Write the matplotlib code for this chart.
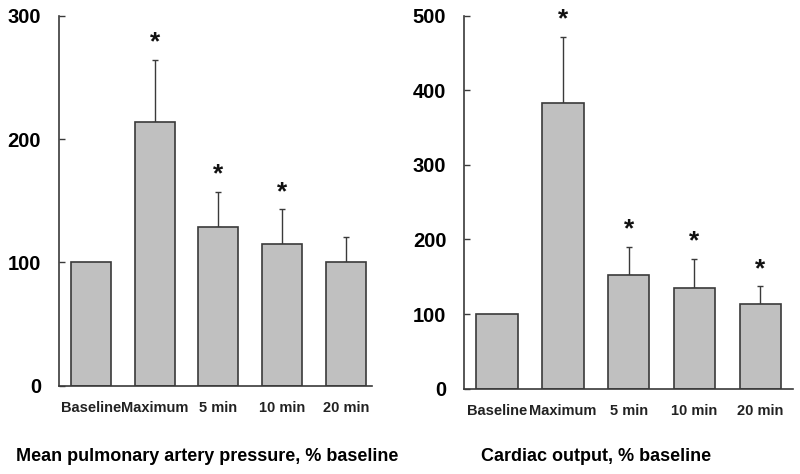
import matplotlib
matplotlib.use("Agg")
import matplotlib.pyplot as plt
import numpy as np

categories = ["Baseline", "Maximum", "5 min", "10 min", "20 min"]

mpap_mean = [100, 214, 129, 115, 100]
mpap_err = [0, 50, 28, 28, 21]
mpap_sig = [False, True, True, True, False]

co_mean = [100, 383, 153, 135, 113]
co_err = [0, 88, 37, 39, 24]
co_sig = [False, True, True, True, True]

left_ticks = [0, 100, 200, 300]
right_ticks = [0, 100, 200, 300, 400, 500]

plt.rcParams['font.family'] = ['Liberation Sans', 'DejaVu Sans']

fig = plt.figure(figsize=(8, 4.74), dpi=100)
ax1 = fig.add_axes([0.0738, 0.186, 0.391, 0.781])
ax2 = fig.add_axes([0.5804, 0.180, 0.411, 0.787])

edge = "#3a3a3a"

def draw(ax, means, errs, sig, ticks, xmax, title, title_x):
    x = np.arange(len(categories))
    ax.bar(x, means, width=0.63, color="#c0c0c0", edgecolor=edge, linewidth=1.2, zorder=2)
    idx = [i for i, e in enumerate(errs) if e > 0]
    ax.errorbar(x[idx], np.array(means)[idx],
                yerr=[np.zeros(len(idx)), np.array(errs)[idx]],
                fmt='none', ecolor=edge, elinewidth=1.0, capsize=2.5, capthick=1.0, zorder=1)
    for i, s in enumerate(sig):
        if s:
            ax.annotate("*", (x[i], means[i] + errs[i]), xytext=(0, 4),
                        textcoords="offset points", ha="center", va="bottom",
                        fontsize=19, fontweight="bold", color="#111111")
    ax.set_xlim(-0.5, xmax)
    ax.set_ylim(0, ticks[-1])
    ax.set_yticks(ticks)
    ax.set_yticklabels([str(t) for t in ticks], fontsize=14.5, fontweight="bold")
    ax.set_xticks(x)
    ax.set_xticklabels(categories, fontsize=10.5, fontweight="bold", color="#222222")
    ax.tick_params(axis="x", length=0, pad=11)
    ax.tick_params(axis="y", direction="in", length=4.5, width=1, color=edge, pad=13)
    for sp in ["top", "right"]:
        ax.spines[sp].set_visible(False)
    for sp in ["left", "bottom"]:
        ax.spines[sp].set_color(edge)
        ax.spines[sp].set_linewidth(1.2)
    ax.patch.set_alpha(0)
    fig.text(title_x, 0.036, title, fontsize=13, fontweight="bold", ha="center", va="center")

draw(ax1, mpap_mean, mpap_err, mpap_sig, left_ticks, 4.41,
     "Mean pulmonary artery pressure, % baseline", 0.259)
draw(ax2, co_mean, co_err, co_sig, right_ticks, 4.5,
     "Cardiac output, % baseline", 0.745)

fig.savefig("out.png", dpi=100)
